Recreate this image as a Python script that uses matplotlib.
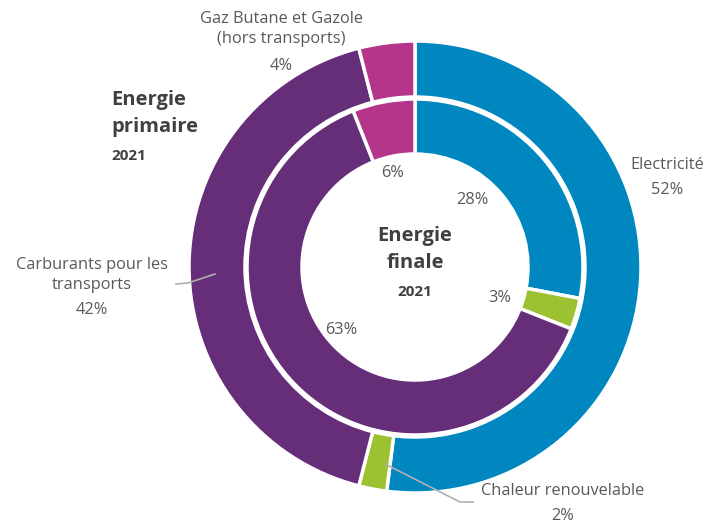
import matplotlib.pyplot as plt

# données
categories = ["Electricité", "Chaleur renouvelable", "Carburants pour les\ntransports",
              "Gaz Butane et Gazole\n(hors transports)"]
primaire = [52, 2, 42, 4]
finale = [28, 3, 63, 6]
couleurs = ["#0087bf", "#9dc231", "#662d78", "#b5358b"]

W, H = 707, 527
cx, cy = 415, H - 267

plt.rcParams['font.family'] = ['Open Sans', 'DejaVu Sans']
fig = plt.figure(figsize=(W / 100, H / 100), dpi=100)
ax = fig.add_axes([0, 0, 1, 1])

edge = dict(edgecolor="white", linewidth=2.5)
ax.pie(primaire, colors=couleurs, startangle=90, counterclock=False,
       center=(cx, cy), radius=226, wedgeprops=dict(width=56, **edge))
ax.pie(finale, colors=couleurs, startangle=90, counterclock=False,
       center=(cx, cy), radius=168, wedgeprops=dict(width=55, **edge))

ax.set_xlim(0, W)
ax.set_ylim(0, H)
ax.set_aspect("equal")
ax.axis("off")

gris = "#595959"
fonce = "#404040"


def txt(x, y, s, **kw):
    kw.setdefault("color", gris)
    kw.setdefault("fontsize", 11.8)
    kw.setdefault("ha", "center")
    ax.text(x, H - y, s, va="center", linespacing=1.3, **kw)


# étiquettes anneau extérieur
txt(281, 29, categories[3])
txt(281, 66, f"{primaire[3]}%")
txt(667, 165, categories[0])
txt(667, 190, f"{primaire[0]}%")
txt(92, 275, categories[2])
txt(92, 310, f"{primaire[2]}%")
txt(563, 491, categories[1])
txt(563, 516, f"{primaire[1]}%")

# étiquettes anneau intérieur
txt(393, 173, f"{finale[3]}%")
txt(472, 200, f"{finale[0]}%")
txt(500, 298, f"{finale[1]}%")
txt(341, 330, f"{finale[2]}%")

# lignes de rappel
ax.plot([176, 188, 215], [H - 284, H - 283, H - 274], color="#b0b0b0", lw=1.2)
ax.plot([385, 460, 473], [H - 464, H - 502, H - 502], color="#b0b0b0", lw=1.2)

# titres
ax.text(111, H - 100, "Energie", color=fonce, fontsize=14.5, fontweight="bold", va="center")
ax.text(111, H - 127, "primaire", color=fonce, fontsize=14.5, fontweight="bold", va="center")
ax.text(111, H - 156, "2021", color=fonce, fontsize=11, fontweight="bold", va="center")
txt(415, 236, "Energie", color=fonce, fontsize=14.5, fontweight="bold")
txt(415, 263, "finale", color=fonce, fontsize=14.5, fontweight="bold")
txt(415, 292, "2021", color=fonce, fontsize=11, fontweight="bold")

fig.savefig("out.png", dpi=100)
